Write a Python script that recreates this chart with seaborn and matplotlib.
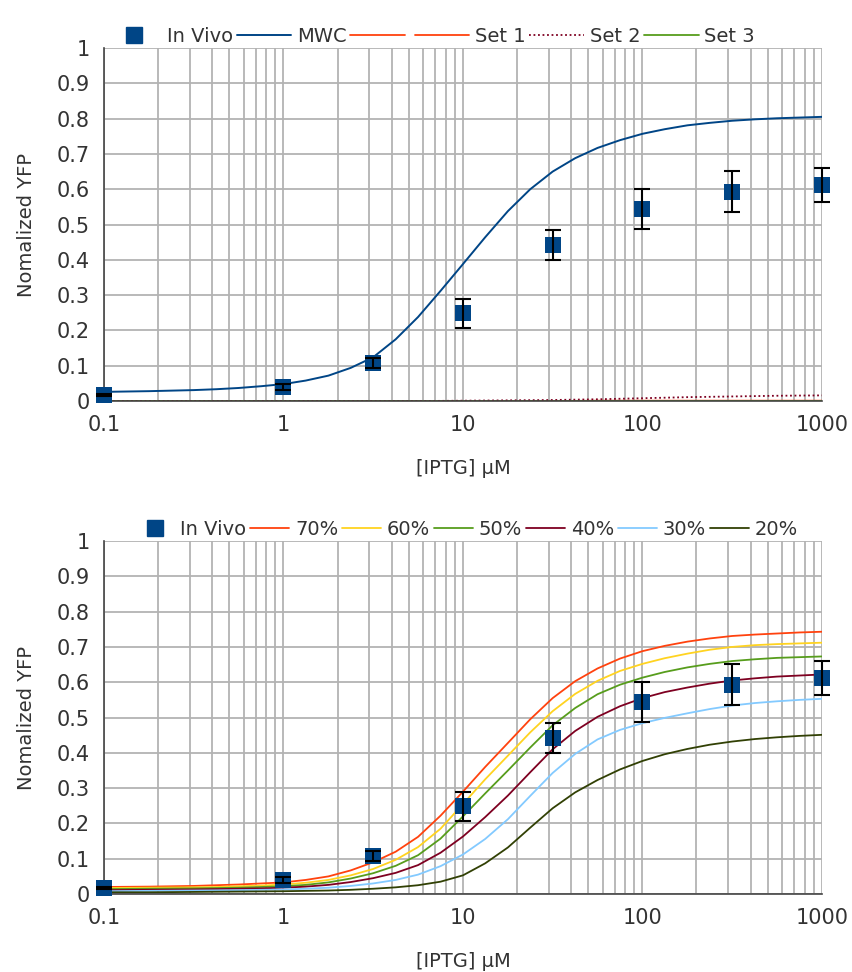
import numpy as np
import pandas as pd
import matplotlib
matplotlib.use('Agg')
import matplotlib.pyplot as plt
from matplotlib.lines import Line2D
from matplotlib.ticker import FixedLocator, LogLocator, NullFormatter
import seaborn as sns

# ---------- data (1/8 decade steps)
conc = [0.1, 0.133, 0.178, 0.237, 0.316, 0.422, 0.562, 0.750,
        1, 1.33, 1.78, 2.37, 3.16, 4.22, 5.62, 7.50,
        10, 13.3, 17.8, 23.7, 31.6, 42.2, 56.2, 75.0,
        100, 133, 178, 237, 316, 422, 562, 750, 1000]

invivo_x = [0.1, 1, 3.16, 10, 31.6, 100, 316, 1000]
invivo_y = [0.016, 0.040, 0.108, 0.249, 0.442, 0.544, 0.593, 0.611]
invivo_err = [0.003, 0.008, 0.013, 0.041, 0.043, 0.057, 0.058, 0.048]

mwc = [0.026, 0.027, 0.028, 0.0295, 0.031, 0.0335, 0.037, 0.042,
       0.048, 0.058, 0.072, 0.094, 0.124, 0.175, 0.238, 0.312,
       0.388, 0.464, 0.538, 0.600, 0.650, 0.688, 0.717, 0.739,
       0.757, 0.770, 0.781, 0.788, 0.794, 0.798, 0.801, 0.803, 0.805]

# the three parameter sets stay close to zero
conc_sets = [0.1, 0.178, 0.316, 0.562, 1, 1.78, 3.16, 5.62, 10, 17.8,
             31.6, 56.2, 100, 178, 316, 562, 1000]
set1 = [0, 0, 0, 0, 0, 0, 0, 0, 0, 0, 0, 0.001, 0.001, 0.001, 0.001,
        0.001, 0.001]
set2 = [0, 0, 0, 0, 0, 0, 0, 0, 0.001, 0.002, 0.003, 0.005, 0.008,
        0.011, 0.013, 0.015, 0.016]
set3 = [0, 0, 0, 0, 0, 0, 0, 0, 0, 0, 0, 0, 0, 0, 0, 0, 0]

pct_labels = ['70%', '60%', '50%', '40%', '30%', '20%']
p70 = [0.020, 0.0205, 0.021, 0.022, 0.023, 0.025, 0.027, 0.030,
       0.033, 0.040, 0.050, 0.067, 0.090, 0.120, 0.162, 0.222,
       0.290, 0.360, 0.428, 0.495, 0.555, 0.603, 0.639, 0.667,
       0.688, 0.703, 0.715, 0.724, 0.731, 0.735, 0.738, 0.741, 0.743]
p60 = [0.017, 0.0175, 0.018, 0.0185, 0.019, 0.020, 0.022, 0.024,
       0.027, 0.032, 0.040, 0.053, 0.071, 0.097, 0.133, 0.185,
       0.255, 0.325, 0.392, 0.458, 0.518, 0.567, 0.604, 0.632,
       0.652, 0.668, 0.681, 0.692, 0.700, 0.705, 0.708, 0.710, 0.712]
p50 = [0.014, 0.0145, 0.015, 0.0155, 0.016, 0.017, 0.018, 0.020,
       0.022, 0.026, 0.033, 0.044, 0.059, 0.080, 0.110, 0.157,
       0.220, 0.285, 0.350, 0.415, 0.478, 0.527, 0.566, 0.593,
       0.613, 0.629, 0.642, 0.652, 0.660, 0.665, 0.669, 0.671, 0.673]
p40 = [0.011, 0.0115, 0.012, 0.0125, 0.013, 0.014, 0.015, 0.016,
       0.018, 0.021, 0.026, 0.034, 0.045, 0.060, 0.082, 0.117,
       0.163, 0.218, 0.279, 0.345, 0.410, 0.462, 0.502, 0.532,
       0.555, 0.572, 0.585, 0.596, 0.605, 0.611, 0.616, 0.619, 0.622]
p30 = [0.008, 0.0085, 0.009, 0.0095, 0.010, 0.0105, 0.011, 0.012,
       0.013, 0.015, 0.018, 0.023, 0.030, 0.040, 0.055, 0.079,
       0.112, 0.156, 0.212, 0.278, 0.343, 0.397, 0.438, 0.465,
       0.484, 0.499, 0.512, 0.524, 0.534, 0.541, 0.546, 0.550, 0.553]
p20 = [0.005, 0.005, 0.005, 0.0055, 0.006, 0.0065, 0.007, 0.0075,
       0.008, 0.009, 0.010, 0.012, 0.015, 0.019, 0.025, 0.035,
       0.053, 0.087, 0.132, 0.188, 0.243, 0.288, 0.323, 0.353,
       0.377, 0.396, 0.411, 0.423, 0.432, 0.439, 0.444, 0.448, 0.451]

blue = '#004586'
orange = '#ff420e'
yellow = '#ffd320'
green = '#579d1c'
wine = '#7e0021'
sky = '#83caff'
olive = '#314004'
txt = '#333333'
gridc = '#b3b3b3'

sns.set_style('white')
plt.rcParams['font.family'] = ['DejaVu Sans']
plt.rcParams['text.color'] = txt
plt.rcParams['axes.labelcolor'] = txt
plt.rcParams['xtick.color'] = txt
plt.rcParams['ytick.color'] = txt

fig = plt.figure(figsize=(8.53, 9.72), dpi=100)
ax_top = fig.add_axes([0.1219, 0.5874, 0.8417, 0.3632])
ax_bot = fig.add_axes([0.1219, 0.0802, 0.8417, 0.3632])


def style_axis(ax):
    ax.set_xscale('log')
    ax.set_xlim(0.1, 1000)
    ax.set_ylim(0, 1)
    ax.xaxis.set_major_locator(FixedLocator([0.1, 1, 10, 100, 1000]))
    ax.set_xticklabels(['0.1', '1', '10', '100', '1000'])
    ax.xaxis.set_minor_locator(LogLocator(base=10, subs=np.arange(2, 10)))
    ax.xaxis.set_minor_formatter(NullFormatter())
    yt = np.round(np.arange(0, 1.01, 0.1), 1)
    ax.set_yticks(yt)
    ax.set_yticklabels(['0' if v == 0 else ('1' if v == 1 else f'{v:.1f}') for v in yt])
    ax.grid(True, which='both', axis='x', color=gridc, lw=1.3)
    ax.grid(True, which='major', axis='y', color=gridc, lw=1.3)
    ax.set_axisbelow(True)
    for s in ['top', 'right']:
        ax.spines[s].set_visible(False)
    for s in ['left', 'bottom']:
        ax.spines[s].set_color('#444444')
        ax.spines[s].set_linewidth(1.2)
    ax.tick_params(which='major', direction='out', length=6, width=1.2,
                   color='#444444', labelsize=15, pad=4)
    ax.tick_params(which='minor', length=0)
    ax.set_xlabel('[IPTG] µM', fontsize=14, labelpad=17)
    ax.set_ylabel('Nomalized YFP', fontsize=14, labelpad=15)


def draw_invivo(ax):
    ax.errorbar(invivo_x, invivo_y, yerr=invivo_err, fmt='none',
                ecolor='black', elinewidth=1.5, capsize=5.5, capthick=1.5,
                zorder=6, clip_on=False)
    sns.scatterplot(x=invivo_x, y=invivo_y, ax=ax, marker='s', s=145,
                    color=blue, edgecolor=blue, linewidth=0, zorder=5,
                    clip_on=False)


# ---------- top panel
sets_df = pd.DataFrame({'conc': conc_sets, 'Set 1': set1, 'Set 2': set2,
                        'Set 3': set3})
mwc_df = pd.DataFrame({'conc': conc, 'MWC': mwc})
sns.lineplot(data=sets_df, x='conc', y='Set 1', ax=ax_top, color=orange, lw=1.3)
sns.lineplot(data=sets_df, x='conc', y='Set 3', ax=ax_top, color=green, lw=1.3)
sns.lineplot(data=sets_df, x='conc', y='Set 2', ax=ax_top, color=wine, lw=1.3,
             linestyle=(0, (1, 1.5)))
sns.lineplot(data=mwc_df, x='conc', y='MWC', ax=ax_top, color=blue, lw=1.4)
draw_invivo(ax_top)
style_axis(ax_top)

top_handles = [
    Line2D([], [], ls='none', marker='s', ms=11, color=blue),
    Line2D([], [], color=blue, lw=1.4),
    Line2D([], [], color=orange, lw=1.3),
    Line2D([], [], color=orange, lw=1.3),
    Line2D([], [], color=wine, lw=1.3, ls=(0, (1, 1.5))),
    Line2D([], [], color=green, lw=1.3),
]
ax_top.legend(top_handles, ['In Vivo', 'MWC', '', 'Set 1', 'Set 2', 'Set 3'],
              loc='lower center', bbox_to_anchor=(0.455, 0.985), ncol=6,
              frameon=False, fontsize=14, handlelength=2.8,
              handletextpad=0.3, columnspacing=0.2, borderaxespad=0)

# ---------- bottom panel
pct_series = [p70, p60, p50, p40, p30, p20]
pct_colors = [orange, yellow, green, wine, sky, olive]
bot_df = pd.DataFrame({lab: vals for lab, vals in zip(pct_labels, pct_series)})
bot_df['conc'] = conc
long_df = bot_df.melt(id_vars='conc', var_name='level', value_name='yfp')
sns.lineplot(data=long_df, x='conc', y='yfp', hue='level',
             hue_order=pct_labels, palette=pct_colors, ax=ax_bot, lw=1.3,
             legend=False)
draw_invivo(ax_bot)
style_axis(ax_bot)

bot_handles = [Line2D([], [], ls='none', marker='s', ms=11, color=blue)]
bot_handles += [Line2D([], [], color=c, lw=1.3) for c in pct_colors]
ax_bot.legend(bot_handles, ['In Vivo'] + pct_labels,
              loc='lower center', bbox_to_anchor=(0.505, 0.985), ncol=7,
              frameon=False, fontsize=14, handlelength=2.0,
              handletextpad=0.3, columnspacing=0.2, borderaxespad=0)

fig.savefig('out.png', dpi=100)
